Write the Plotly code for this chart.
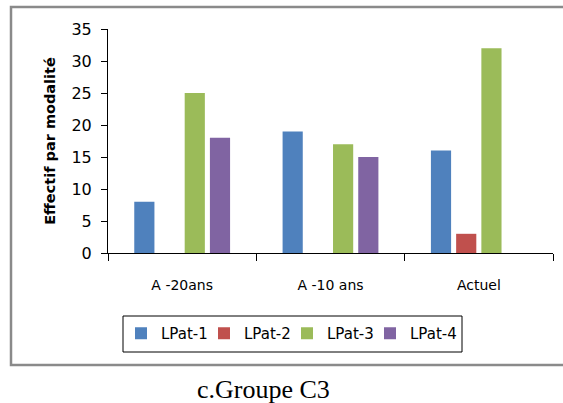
import plotly.graph_objects as go

categories = ["A -20ans", "A -10 ans", "Actuel"]
series_names = ["LPat-1", "LPat-2", "LPat-3", "LPat-4"]
lpat1 = [8, 19, 16]
lpat2 = [None, None, 3]
lpat3 = [25, 17, 32]
lpat4 = [18, 15, None]
colors = ["#4F81BD", "#C0504D", "#9BBB59", "#8064A2"]
y_ticks = [0, 5, 10, 15, 20, 25, 30, 35]

W, H = 563, 403
L, T = 108, 29
R = W - 553
B = H - 253
pw, ph = W - L - R, H - T - B

def px_x(x):
    return (x - L) / pw

def px_y(y):
    return (H - B - y) / ph

fig = go.Figure()
for name, vals, col in zip(series_names, [lpat1, lpat2, lpat3, lpat4], colors):
    fig.add_trace(go.Bar(x=categories, y=vals, name=name, marker=dict(color=col, line=dict(width=0))))
# spacer legend entry (invisible) so the last label is not clipped
fig.add_trace(go.Scatter(x=[None], y=[None], name=" ", mode="markers", showlegend=True,
                         marker=dict(opacity=0, color="rgba(0,0,0,0)"), hoverinfo="skip"))

fig.update_layout(
    width=W, height=H, autosize=False,
    margin=dict(l=L, r=R, t=T, b=B, pad=0),
    paper_bgcolor="white", plot_bgcolor="white",
    barmode="group", bargap=0.32, bargroupgap=0.2,
    font=dict(family="DejaVu Sans", size=13, color="#000000"),
    showlegend=True,
    legend=dict(
        orientation="h", x=px_x(121), y=px_y(317), xanchor="left", yanchor="top",
        borderwidth=0, bgcolor="rgba(0,0,0,0)",
        font=dict(family="DejaVu Sans", size=15, color="#000000"),
        entrywidth=38, itemwidth=30,
    ),
    xaxis=dict(
        type="category",
        showline=True, linecolor="#000000", linewidth=1,
        ticks="outside", tickson="boundaries", ticklen=7, tickcolor="#000000",
        showgrid=False, ticklabelstandoff=19,
        tickfont=dict(family="DejaVu Sans", size=14, color="#000000"),
    ),
    yaxis=dict(
        range=[0, 35], tickvals=y_ticks, showline=True, linecolor="#000000", linewidth=1,
        ticks="outside", ticklen=6, tickcolor="#000000", showgrid=False, zeroline=False,
        tickfont=dict(family="DejaVu Sans", size=16, color="#000000"),
        ticklabelstandoff=6,
        title=dict(text="<b>Effectif par modalité</b>", standoff=12,
                   font=dict(family="DejaVu Sans", size=14.5, color="#000000")),
    ),
    shapes=[
        dict(type="rect", xref="paper", yref="paper",
             x0=px_x(11), x1=px_x(575), y0=px_y(365), y1=px_y(7),
             line=dict(color="#8a8a8a", width=2.5), fillcolor="rgba(0,0,0,0)", layer="below"),
        dict(type="rect", xref="paper", yref="paper",
             x0=px_x(123), x1=px_x(462), y0=px_y(352), y1=px_y(316),
             line=dict(color="#000000", width=1), fillcolor="rgba(0,0,0,0)", layer="below"),
    ],
    annotations=[dict(text="c.Groupe C3", xref="paper", yref="paper",
                      x=px_x(263), y=px_y(389), xanchor="center", yanchor="middle",
                      showarrow=False,
                      font=dict(family="Liberation Serif", size=26, color="#000000"))],
)

fig.write_html("out.html", config={"displayModeBar": False},
               post_script="document.body.style.margin='0';")
